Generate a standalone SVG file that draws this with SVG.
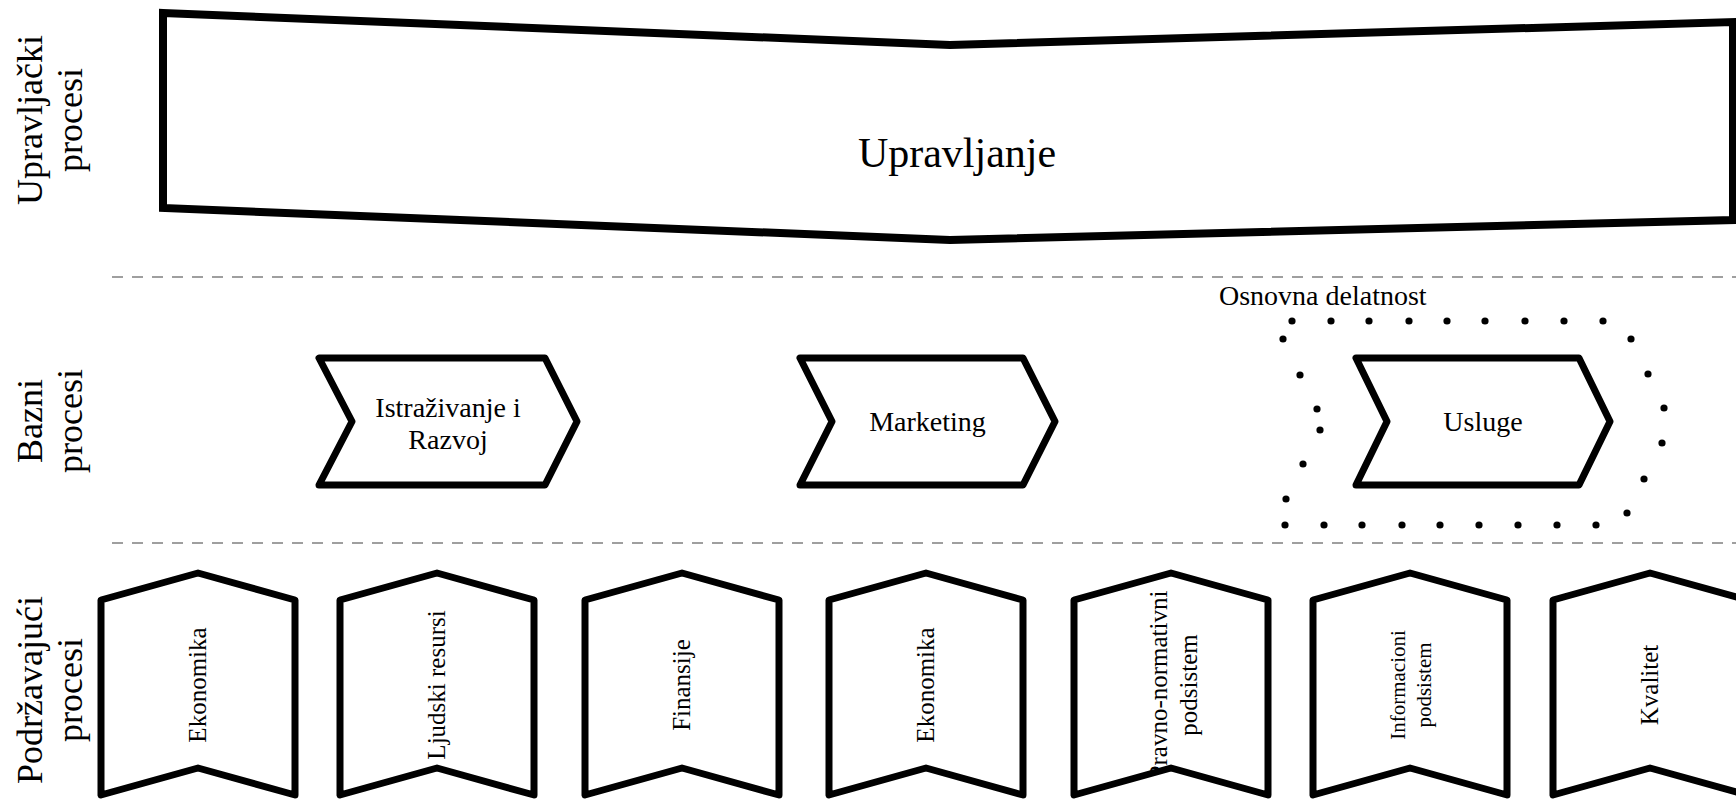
<svg xmlns="http://www.w3.org/2000/svg" width="1736" height="799" viewBox="0 0 1736 799">
  <style>
    text { font-family: "Liberation Serif", "Times New Roman", serif; fill: #000; }
    .shape { fill: #fff; stroke: #000; stroke-width: 7; stroke-linejoin: round; }
    .big { fill: #fff; stroke: #000; stroke-width: 8; stroke-linejoin: miter; }
    .sep { stroke: #808080; stroke-width: 1.5; stroke-dasharray: 11 9; fill: none; }
    .lane { font-size: 36px; }
    .lbl { font-size: 28px; }
    .sup { font-size: 25px; }
    .dot { fill: #000; }
  </style>
  <defs>
    <clipPath id="clip5"><polygon points="1074,600 1171,573 1268,600 1268,795 1171,768 1074,795"/></clipPath>
  </defs>

  <g id="lane-labels">
    <text class="lane" transform="translate(42,120) rotate(-90)" text-anchor="middle"><tspan x="0" y="0">Upravljački</tspan><tspan x="0" y="40">procesi</tspan></text>
    <text class="lane" transform="translate(42,421) rotate(-90)" text-anchor="middle"><tspan x="0" y="0">Bazni</tspan><tspan x="0" y="40">procesi</tspan></text>
    <text class="lane" transform="translate(42,690) rotate(-90)" text-anchor="middle"><tspan x="0" y="0">Podržavajući</tspan><tspan x="0" y="40">procesi</tspan></text>
  </g>

  <g id="separators">
    <line class="sep" x1="112" y1="277" x2="1736" y2="277"/>
    <line class="sep" x1="112" y1="543" x2="1736" y2="543"/>
  </g>

  <g id="upravljanje">
    <polygon class="big" points="163,13 950,45 1733,22 1733,220 950,240 163,208"/>
    <text x="957" y="167" font-size="42" text-anchor="middle">Upravljanje</text>
  </g>

  <g id="osnovna-delatnost">
    <text class="lbl" x="1219" y="305">Osnovna delatnost</text>
    <g class="dot">
      <circle cx="1292" cy="321" r="3.6"/><circle cx="1331" cy="321" r="3.6"/><circle cx="1369" cy="321" r="3.6"/>
      <circle cx="1409" cy="321" r="3.6"/><circle cx="1447" cy="321" r="3.6"/><circle cx="1485" cy="321" r="3.6"/>
      <circle cx="1525" cy="321" r="3.6"/><circle cx="1564" cy="321" r="3.6"/><circle cx="1603" cy="321" r="3.6"/>
      <circle cx="1285" cy="525" r="3.6"/><circle cx="1324" cy="525" r="3.6"/><circle cx="1362" cy="525" r="3.6"/>
      <circle cx="1402" cy="525" r="3.6"/><circle cx="1440" cy="525" r="3.6"/><circle cx="1479" cy="525" r="3.6"/>
      <circle cx="1518" cy="525" r="3.6"/><circle cx="1557" cy="525" r="3.6"/><circle cx="1596" cy="525" r="3.6"/>
      <circle cx="1283" cy="339" r="3.6"/><circle cx="1300" cy="375" r="3.6"/><circle cx="1317" cy="409" r="3.6"/>
      <circle cx="1320" cy="430" r="3.6"/><circle cx="1303" cy="464" r="3.6"/><circle cx="1286" cy="499" r="3.6"/>
      <circle cx="1631" cy="339" r="3.6"/><circle cx="1648" cy="374" r="3.6"/><circle cx="1664" cy="408" r="3.6"/>
      <circle cx="1662" cy="443" r="3.6"/><circle cx="1644" cy="479" r="3.6"/><circle cx="1627" cy="513" r="3.6"/>
    </g>
  </g>

  <g id="istrazivanje">
    <polygon class="shape" points="319,358 545,358 577,421.5 545,485 319,485 352,421.5"/>
    <text class="lbl" text-anchor="middle"><tspan x="448" y="417">Istraživanje i</tspan><tspan x="448" y="449">Razvoj</tspan></text>
  </g>
  <g id="marketing">
    <polygon class="shape" points="800,358 1023,358 1055,421.5 1023,485 800,485 832,421.5"/>
    <text class="lbl" x="927.5" y="431" text-anchor="middle">Marketing</text>
  </g>
  <g id="usluge">
    <polygon class="shape" points="1356,358 1579,358 1610,421.5 1579,485 1356,485 1387,421.5"/>
    <text class="lbl" x="1483" y="431" text-anchor="middle">Usluge</text>
  </g>

  <g id="ekonomika-1">
    <polygon class="shape" points="101,600 198,573 295,600 295,795 198,768 101,795"/>
    <text class="sup" transform="translate(206,685) rotate(-90)" text-anchor="middle">Ekonomika</text>
  </g>
  <g id="ljudski-resursi">
    <polygon class="shape" points="340,600 437,573 534,600 534,795 437,768 340,795"/>
    <text class="sup" transform="translate(445,685) rotate(-90)" text-anchor="middle">Ljudski resursi</text>
  </g>
  <g id="finansije">
    <polygon class="shape" points="585,600 682,573 779,600 779,795 682,768 585,795"/>
    <text class="sup" transform="translate(690,685) rotate(-90)" text-anchor="middle">Finansije</text>
  </g>
  <g id="ekonomika-2">
    <polygon class="shape" points="829,600 926,573 1023,600 1023,795 926,768 829,795"/>
    <text class="sup" transform="translate(934,685) rotate(-90)" text-anchor="middle">Ekonomika</text>
  </g>
  <g id="pravno-normativni">
    <polygon class="shape" points="1074,600 1171,573 1268,600 1268,795 1171,768 1074,795"/>
    <g clip-path="url(#clip5)">
      <text class="sup" transform="translate(1167,685) rotate(-90)" text-anchor="middle"><tspan x="0" y="0">Pravno-normativni</tspan><tspan x="0" y="30">podsistem</tspan></text>
    </g>
  </g>
  <g id="informacioni">
    <polygon class="shape" points="1313,600 1410,573 1507,600 1507,795 1410,768 1313,795"/>
    <text transform="translate(1405,685) rotate(-90)" font-size="21" text-anchor="middle"><tspan x="0" y="0">Informacioni</tspan><tspan x="0" y="26">podsistem</tspan></text>
  </g>
  <g id="kvalitet">
    <polygon class="shape" points="1553,600 1650,573 1747,600 1747,795 1650,768 1553,795"/>
    <text class="sup" transform="translate(1658,685) rotate(-90)" text-anchor="middle">Kvalitet</text>
  </g>

  <g id="connectors"></g>
</svg>
